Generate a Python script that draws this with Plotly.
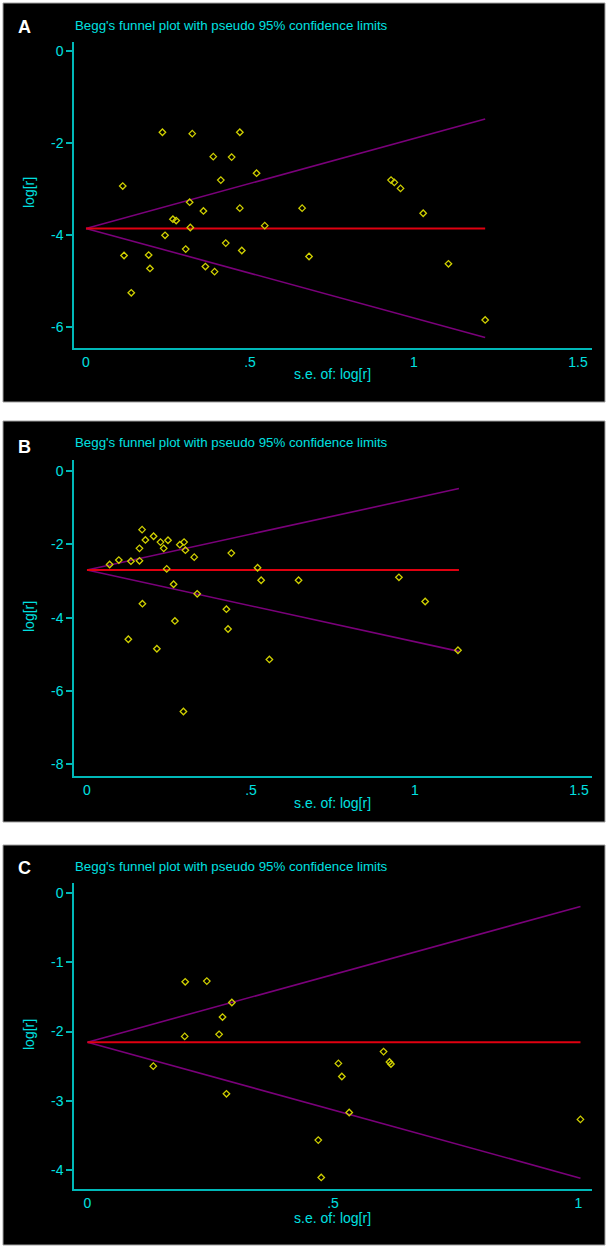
import plotly.graph_objects as go

W, H = 607, 1248

# panel A: se and log[r] of each study
a_se = [0.233, 0.324, 0.469, 0.388, 0.444, 0.520, 0.411, 0.112, 0.316, 0.358, 0.469,
        0.265, 0.275, 0.318, 0.545, 0.241, 0.304, 0.426, 0.475, 0.116, 0.191, 0.195,
        0.364, 0.392, 0.138, 0.659, 0.680, 0.930, 0.940, 0.959, 1.028, 1.105, 1.217]
a_log = [-1.76, -1.79, -1.76, -2.29, -2.30, -2.65, -2.80, -2.93, -3.28, -3.47, -3.41,
         -3.65, -3.68, -3.83, -3.79, -4.00, -4.30, -4.17, -4.33, -4.44, -4.43, -4.72,
         -4.68, -4.79, -5.25, -3.41, -4.46, -2.80, -2.85, -2.98, -3.52, -4.62, -5.84]
a_limit_se = [0, 1.217]
a_pooled = [-3.85, -3.85]
a_upper = [-3.85, -1.47]
a_lower = [-3.85, -6.22]

# panel B
b_se = [0.168, 0.178, 0.203, 0.224, 0.247, 0.160, 0.234, 0.283, 0.296, 0.300, 0.327,
        0.440, 0.069, 0.097, 0.134, 0.160, 0.243, 0.520, 0.531, 0.264, 0.336, 0.169,
        0.425, 0.268, 0.430, 0.126, 0.213, 0.556, 0.294, 0.645, 0.951, 1.031, 1.131]
b_log = [-1.60, -1.88, -1.78, -1.94, -1.89, -2.11, -2.11, -2.01, -1.94, -2.16, -2.35,
         -2.24, -2.55, -2.43, -2.46, -2.45, -2.67, -2.64, -2.98, -3.09, -3.35, -3.62,
         -3.77, -4.09, -4.31, -4.59, -4.85, -5.14, -6.56, -2.98, -2.90, -3.56, -4.89]
b_limit_se = [0, 1.134]
b_pooled = [-2.70, -2.70]
b_upper = [-2.70, -0.48]
b_lower = [-2.70, -4.92]

# panel C
c_se = [0.199, 0.243, 0.294, 0.275, 0.198, 0.268, 0.134, 0.283, 0.511, 0.518, 0.603,
        0.615, 0.618, 0.533, 0.470, 0.476, 1.004]
c_log = [-1.28, -1.27, -1.58, -1.79, -2.07, -2.04, -2.50, -2.90, -2.46, -2.65, -2.29,
         -2.44, -2.47, -3.17, -3.57, -4.11, -3.27]
c_limit_se = [0, 1.004]
c_pooled = [-2.153, -2.153]
c_upper = [-2.153, -0.19]
c_lower = [-2.153, -4.12]

x_ticks_ab = [0, 0.5, 1, 1.5]
x_labels_ab = ["0", ".5", "1", "1.5"]
x_ticks_c = [0, 0.5, 1]
x_labels_c = ["0", ".5", "1"]
y_ticks_a = [0, -2, -4, -6]
y_ticks_b = [0, -2, -4, -6, -8]
y_ticks_c = [0, -1, -2, -3, -4]

TEXT = "#00e0e0"
AXIS = "#00b8b8"
FONT = "Arial, Liberation Sans, sans-serif"


def px(x):
    return x / W


def py(y):
    return 1 - y / H


panels = [
    dict(letter="A", se=a_se, lg=a_log, lim=a_limit_se, pool=a_pooled, up=a_upper, lo=a_lower,
         yt=y_ticks_a, xt=x_ticks_ab, xl=x_labels_ab, box=(3, 3, 605, 402),
         plot=(74, 42, 592, 348), xr=[-0.0366, 1.5427], yr=[-6.45, 0.202],
         letter_y=27, title_y=25, ytitle_y=193, xtitle_y=374),
    dict(letter="B", se=b_se, lg=b_log, lim=b_limit_se, pool=b_pooled, up=b_upper, lo=b_lower,
         yt=y_ticks_b, xt=x_ticks_ab, xl=x_labels_ab, box=(3, 421, 605, 822),
         plot=(74, 460, 592, 776), xr=[-0.0396, 1.5396], yr=[-8.32, 0.30],
         letter_y=447, title_y=443, ytitle_y=617, xtitle_y=803),
    dict(letter="C", se=c_se, lg=c_log, lim=c_limit_se, pool=c_pooled, up=c_upper, lo=c_lower,
         yt=y_ticks_c, xt=x_ticks_c, xl=x_labels_c, box=(3, 845, 605, 1245),
         plot=(74, 883, 592, 1189), xr=[-0.0275, 1.0275], yr=[-4.277, 0.149],
         letter_y=868, title_y=866, ytitle_y=1035, xtitle_y=1218),
]

fig = go.Figure()
shapes = []
annotations = []
layout_axes = {}
n = len(panels)

for i, p in enumerate(panels, start=1):
    xa = "x" if i == 1 else f"x{i}"
    ya = "y" if i == 1 else f"y{i}"

    fig.add_trace(go.Scatter(x=p["lim"], y=p["up"], mode="lines", xaxis=xa, yaxis=ya,
                             line=dict(color="#7a007a", width=1.6), showlegend=False))
    fig.add_trace(go.Scatter(x=p["lim"], y=p["lo"], mode="lines", xaxis=xa, yaxis=ya,
                             line=dict(color="#7a007a", width=1.6), showlegend=False))
    fig.add_trace(go.Scatter(x=p["lim"], y=p["pool"], mode="lines", xaxis=xa, yaxis=ya,
                             line=dict(color="#e00010", width=2), showlegend=False))
    fig.add_trace(go.Scatter(x=p["se"], y=p["lg"], mode="markers", xaxis=xa, yaxis=ya,
                             marker=dict(symbol="diamond-open", size=5, color="#d0d000",
                                         line=dict(width=1.3, color="#d0d000")),
                             showlegend=False))

    bx0, by0, bx1, by1 = p["box"]
    shapes.append(dict(type="rect", xref="paper", yref="paper", layer="below",
                       x0=px(bx0), x1=px(bx1), y0=py(by1), y1=py(by0),
                       fillcolor="black", line=dict(color="#a0a0a0", width=1)))

    lx0, ly0, lx1, ly1 = p["plot"]
    key = "" if i == 1 else str(i)
    xdom = [px(lx0), px(lx1)]
    # labelled x axis without tick marks, so the labels sit close to the axis as in Stata
    layout_axes["xaxis" + key] = dict(
        domain=xdom, range=p["xr"], anchor=ya,
        tickvals=p["xt"], ticktext=p["xl"], ticks="",
        showline=True, linecolor=AXIS, linewidth=1.5, showgrid=False,
        zeroline=False, tickfont=dict(color=TEXT, size=14, family=FONT))
    # overlay axis that only draws the outside tick marks
    layout_axes["xaxis" + str(i + n)] = dict(
        domain=xdom, range=p["xr"], anchor=ya, overlaying=xa, side="bottom",
        tickvals=p["xt"], showticklabels=False, ticks="outside", ticklen=6, tickwidth=1.5,
        tickcolor=AXIS, showline=False, showgrid=False, zeroline=False)
    layout_axes["yaxis" + key] = dict(
        domain=[py(ly1), py(ly0)], range=p["yr"], anchor=xa,
        tickvals=p["yt"], ticktext=[str(v) for v in p["yt"]], ticks="outside", ticklen=6,
        tickwidth=1.5, tickcolor=AXIS, showline=True, linecolor=AXIS, linewidth=1.5,
        showgrid=False, zeroline=False, tickfont=dict(color=TEXT, size=14, family=FONT))

    annotations += [
        dict(text=f"<b>{p['letter']}</b>", x=px(16), y=py(p["letter_y"]), xanchor="left",
             yanchor="middle", font=dict(color="white", size=18, family=FONT)),
        dict(text="Begg's funnel plot with pseudo 95% confidence limits", x=px(73),
             y=py(p["title_y"]), xanchor="left", yanchor="middle",
             font=dict(color=TEXT, size=13.3, family=FONT)),
        dict(text="log[r]", x=px(29), y=py(p["ytitle_y"]), textangle=-90, xanchor="center",
             yanchor="middle", font=dict(color=TEXT, size=14, family=FONT)),
        dict(text="s.e. of: log[r]", x=px(333), y=py(p["xtitle_y"]), xanchor="center",
             yanchor="middle", font=dict(color=TEXT, size=14, family=FONT)),
    ]

for a in annotations:
    a.update(xref="paper", yref="paper", showarrow=False)

fig.update_layout(
    width=W, height=H,
    margin=dict(l=0, r=0, t=0, b=0),
    paper_bgcolor="white", plot_bgcolor="rgba(0,0,0,0)",
    shapes=shapes, annotations=annotations,
    **layout_axes,
)

# drop the browser's default page margin so the figure sits at the window corner
fig.write_html("out.html", config={"displayModeBar": False},
               post_script="document.body.style.margin='0';document.body.style.overflow='hidden';")
